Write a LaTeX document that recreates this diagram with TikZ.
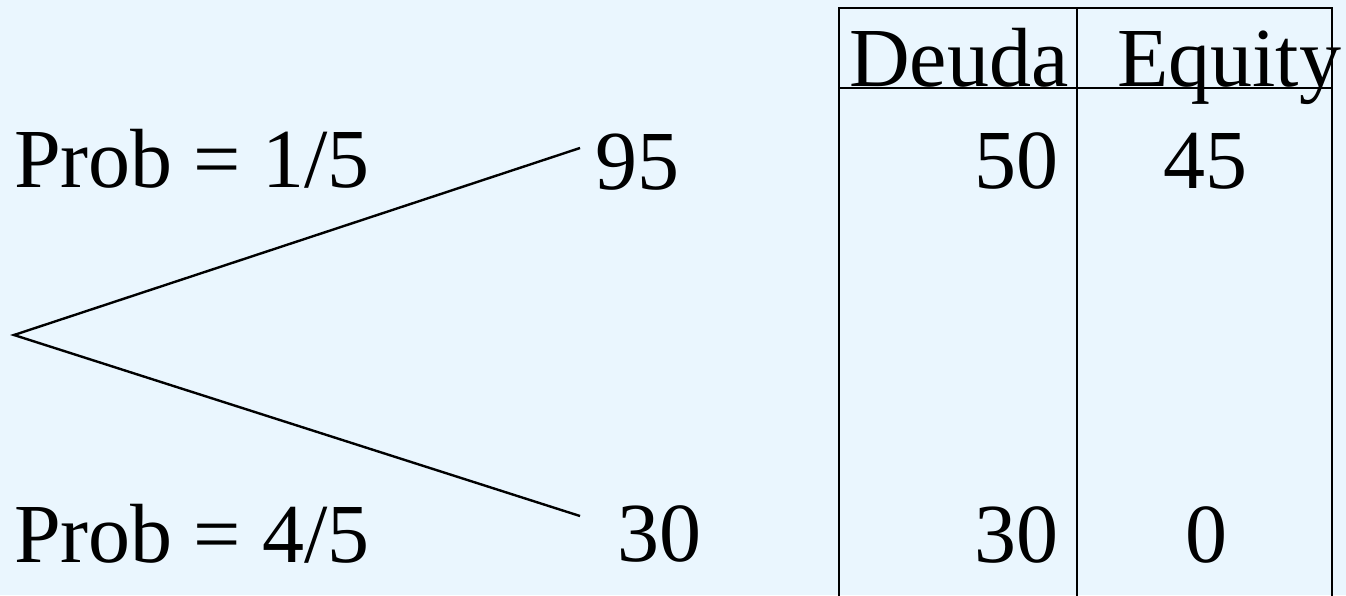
\documentclass[tikz,border=0pt]{standalone}
\usepackage{fontspec}
\setmainfont{Liberation Serif}
\definecolor{bgblue}{RGB}{234,246,254}
\begin{document}
\begin{tikzpicture}[x=1pt,y=-1pt,
  txt/.style={inner sep=0pt,font=\fontsize{84}{100}\selectfont},
  rule/.style={line width=2.4pt,black},
  branch/.style={line width=2.4pt,black}]
\fill[bgblue] (0,0) rectangle (1346,595);
\useasboundingbox (0,0) rectangle (1346,595);
% table
\coordinate (tl) at (839,8);
\coordinate (tr) at (1332,8);
\coordinate (hl) at (839,88);
\coordinate (hr) at (1332,88);
\coordinate (bl) at (839,597);
\coordinate (bm) at (1077,597);
\coordinate (tm) at (1077,8);
\coordinate (br) at (1332,597);
\draw[rule] (bl) -- (tl) -- (tr) -- (br);
\draw[rule] (tm) -- (bm);
\draw[rule] (hl) -- (hr);
\node[txt,anchor=base west] (deuda) at (849,86) {Deuda};
\node[txt,anchor=base west] (equity) at (1117,86) {Equity};
\node[txt,anchor=base east] (v50) at (1059,188) {50};
\node[txt,anchor=base] (v45) at (1205,188) {45};
\node[txt,anchor=base east] (v30) at (1059,562) {30};
\node[txt,anchor=base] (v0) at (1206,562) {0};
% tree
\node[txt,anchor=base west] (p1) at (14,187) {Prob = 1/5};
\node[txt,anchor=base west] (p2) at (14,562) {Prob = 4/5};
\node[txt,anchor=base west] (n95) at (595,189) {95};
\node[txt,anchor=base west] (n30) at (617,561) {30};
\coordinate (apex) at (14,335);
\coordinate (e1) at (580,148);
\coordinate (e2) at (580,516);
\draw[branch] (e1) -- (apex) -- (e2);
\end{tikzpicture}
\end{document}
